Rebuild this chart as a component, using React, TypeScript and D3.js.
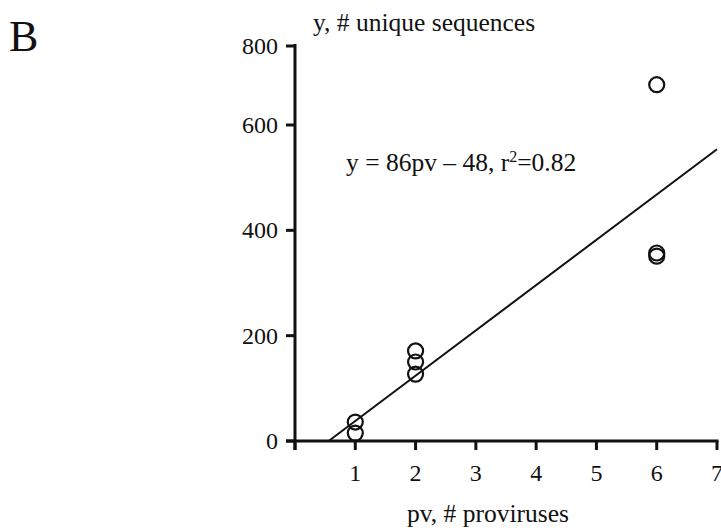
import { useEffect, useRef } from 'react'
import * as d3 from 'd3'

const W = 721
const H = 530

// pv, # proviruses vs y, # unique sequences
const pvValues = [1, 1, 2, 2, 2, 6, 6, 6]
const seqValues = [36, 15, 171, 150, 127, 702, 357, 351]

const xTicks = [0, 1, 2, 3, 4, 5, 6, 7]
const xTickLabels = ['', '1', '2', '3', '4', '5', '6', '7']
const yTicks = [0, 200, 400, 600, 800]

// regression y = 86pv - 48
const slope = 86
const intercept = -48
const fitRange = [-intercept / slope, 7]

export default function App() {
  const svgRef = useRef<SVGSVGElement>(null)

  useEffect(() => {
    if (!svgRef.current) return
    const svg = d3.select(svgRef.current)
    svg.selectAll('*').remove()

    const font = '"Liberation Serif", "Times New Roman", serif'

    const x = d3.scaleLinear().domain([0, 7]).range([295, 717])
    // top segment of the original axis is compressed
    const y = d3.scaleLinear().domain([0, 600, 800]).range([441, 125, 46])

    const g = svg.append('g')

    // y axis
    g.append('line')
      .attr('x1', x(0)).attr('x2', x(0))
      .attr('y1', y(800) - 2).attr('y2', y(0) + 9)
      .attr('stroke', '#111').attr('stroke-width', 3)

    yTicks.forEach(t => {
      g.append('line')
        .attr('x1', x(0) - 9).attr('x2', x(0))
        .attr('y1', y(t)).attr('y2', y(t))
        .attr('stroke', '#111').attr('stroke-width', 3)
      g.append('text')
        .attr('x', x(0) - 17).attr('y', y(t) + 8)
        .attr('text-anchor', 'end')
        .attr('font-family', font).attr('font-size', 24)
        .attr('fill', '#111')
        .text(String(t))
    })

    // x axis
    g.append('line')
      .attr('x1', x(0) - 9).attr('x2', x(7) + 1.5)
      .attr('y1', y(0)).attr('y2', y(0))
      .attr('stroke', '#111').attr('stroke-width', 3)

    xTicks.forEach((t, i) => {
      g.append('line')
        .attr('x1', x(t)).attr('x2', x(t))
        .attr('y1', y(0)).attr('y2', y(0) + 9)
        .attr('stroke', '#111').attr('stroke-width', 3)
      g.append('text')
        .attr('x', x(t)).attr('y', y(0) + 40)
        .attr('text-anchor', 'middle')
        .attr('font-family', font).attr('font-size', 24)
        .attr('fill', '#111')
        .text(xTickLabels[i])
    })

    // fitted line
    const line = d3.line<number>().x(d => x(d)).y(d => y(slope * d + intercept))
    g.append('path')
      .datum(fitRange)
      .attr('d', line)
      .attr('fill', 'none')
      .attr('stroke', '#111')
      .attr('stroke-width', 2)

    // points
    g.selectAll('circle.pt')
      .data(pvValues.map((pv, i) => ({ pv, v: seqValues[i] })))
      .join('circle')
      .attr('class', 'pt')
      .attr('cx', d => x(d.pv))
      .attr('cy', d => y(d.v))
      .attr('r', 7.5)
      .attr('fill', 'none')
      .attr('stroke', '#111')
      .attr('stroke-width', 2.2)

    // equation
    const eq = g.append('text')
      .attr('x', 346).attr('y', 171)
      .attr('font-family', font).attr('font-size', 25.5)
      .attr('fill', '#111')
    eq.append('tspan').text('y = 86pv \u2013 48, r')
    eq.append('tspan').attr('font-size', 16).attr('dy', -9).text('2')
    eq.append('tspan').attr('dy', 9).text('=0.82')

    // axis titles
    g.append('text')
      .attr('x', 313).attr('y', 31)
      .attr('font-family', font).attr('font-size', 25.5)
      .attr('fill', '#111')
      .text('y, # unique sequences')

    g.append('text')
      .attr('x', 488).attr('y', 522)
      .attr('text-anchor', 'middle')
      .attr('font-family', font).attr('font-size', 25.5)
      .attr('fill', '#111')
      .text('pv, # proviruses')

    // panel letter
    svg.append('text')
      .attr('x', 9).attr('y', 51)
      .attr('font-family', font).attr('font-size', 44)
      .attr('fill', '#111')
      .text('B')
  }, [])

  return (
    <svg
      ref={svgRef}
      width={W}
      height={H}
      style={{ position: 'absolute', left: 0, top: 0, background: '#fff' }}
    />
  )
}
